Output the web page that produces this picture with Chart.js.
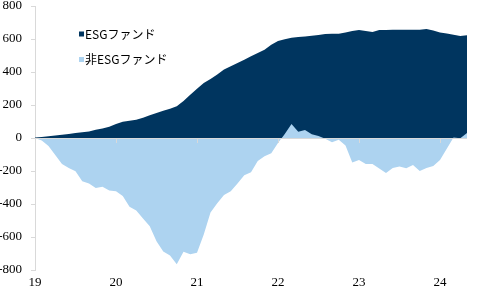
<!DOCTYPE html>
<html>
<head>
<meta charset="utf-8">
<script src="https://cdn.jsdelivr.net/npm/chart.js@4/dist/chart.umd.min.js"></script>
<style>
html,body{margin:0;padding:0;background:#fff;}
#wrap{width:482px;height:292px;position:relative;}
</style>
</head>
<body>
<div id="wrap"><canvas id="c" width="482" height="292"></canvas></div>
<script>
// Month categories Jan 2019 .. May 2024
const years = ['19','20','21','22','23','24'];
const categories = [];
for (let y = 0; y < years.length; y++) {
  for (let m = 1; m <= 12; m++) {
    if (y === years.length - 1 && m > 5) break;
    categories.push(years[y] + '/' + String(m).padStart(2, '0'));
  }
}
const seriesNames = ['ESGファンド', '非ESGファンド'];
const esgValues = [
  3, 6, 10, 15, 20, 24, 30, 35, 40, 50, 58, 68,
  85, 98, 105, 110, 122, 138, 152, 165, 178, 192, 225, 262,
  298, 333, 358, 385, 415, 435, 455, 475, 495, 515, 535, 565,
  588, 598, 608, 612, 615, 620, 625, 630, 632, 632, 640, 648,
  655, 648, 642, 654, 655, 656, 656, 656, 656, 656, 660, 652,
  640, 634, 626, 618, 622
];
const nonEsgValues = [
  0, -15, -48, -103, -158, -182, -202, -262, -276, -303, -296, -318,
  -323, -352, -416, -440, -488, -535, -625, -688, -712, -765, -690, -705,
  -695, -585, -452, -395, -345, -323, -275, -225, -207, -140, -110, -93,
  -30, 25, 85, 38, 48, 22, 12, -5, -25, -10, -45, -148,
  -133, -158, -158, -185, -212, -182, -172, -184, -164, -200, -182, -170,
  -133, -65, 3, -2, 30
];
const yTicks = [-800, -600, -400, -200, 0, 200, 400, 600, 800];

const colors = ['#00355F', '#ADD3F0'];
const axisGray = '#D9D9D9';
const tickFont = { family: 'Liberation Serif', size: 13 };

const legendPlugin = {
  id: 'customLegend',
  afterDraw(chart) {
    const ctx = chart.ctx;
    ctx.save();
    ctx.font = '12px "Noto Sans CJK JP", sans-serif';
    ctx.textBaseline = 'middle';
    ctx.textAlign = 'left';
    chart.data.datasets.forEach((ds, i) => {
      const cy = 34 + i * 25.5;
      ctx.fillStyle = ds.backgroundColor;
      ctx.fillRect(79, cy - 2.5, 5, 5);
      ctx.fillStyle = '#000';
      ctx.fillText(ds.label, 85, cy);
    });
    ctx.restore();
  }
};

const zeroTicksPlugin = {
  id: 'zeroTicks',
  afterDatasetsDraw(chart) {
    const ctx = chart.ctx;
    const xs = chart.scales.x, ys = chart.scales.y;
    const y0 = ys.getPixelForValue(0);
    const ca = chart.chartArea;
    ctx.save();
    ctx.strokeStyle = axisGray;
    ctx.lineWidth = 1;
    ctx.beginPath();
    ctx.moveTo(ca.left, Math.round(y0) + 0.5);
    ctx.lineTo(ca.right, Math.round(y0) + 0.5);
    categories.forEach((c, i) => {
      if (c.endsWith('/01')) {
        const px = Math.round(xs.getPixelForValue(i)) + 0.5;
        ctx.moveTo(px, Math.round(y0));
        ctx.lineTo(px, Math.round(y0) + 5);
      }
    });
    ctx.stroke();
    ctx.restore();
  }
};

new Chart(document.getElementById('c'), {
  type: 'line',
  data: {
    labels: categories,
    datasets: [
      { label: seriesNames[0], data: esgValues, backgroundColor: colors[0], borderColor: colors[0],
        borderWidth: 0, pointRadius: 0, fill: 'origin', tension: 0, order: 1 },
      { label: seriesNames[1], data: nonEsgValues, backgroundColor: colors[1], borderColor: colors[1],
        borderWidth: 0, pointRadius: 0, fill: 'origin', tension: 0, order: 0 }
    ]
  },
  options: {
    responsive: false,
    animation: false,
    layout: { padding: { top: 0, right: 15, left: 0, bottom: 0 } },
    plugins: { legend: { display: false }, tooltip: { enabled: false } },
    scales: {
      x: {
        type: 'category',
        offset: false,
        grid: { display: false, tickLength: 0 },
        border: { display: false },
        ticks: {
          autoSkip: false, maxRotation: 0, padding: 5,
          font: tickFont, color: '#000',
          callback: (v, i) => categories[i].endsWith('/01') ? categories[i].slice(0, 2) : null
        },
        afterFit: (s) => { s.height = 22; }
      },
      y: {
        min: -800, max: 800,
        afterBuildTicks: (s) => { s.ticks = yTicks.map(v => ({ value: v })); },
        grid: { drawOnChartArea: false, color: axisGray, tickLength: 4 },
        border: { display: true, color: axisGray },
        ticks: { font: tickFont, color: '#000', padding: 9 },
        afterFit: (s) => { s.width = 35; s.paddingTop = 6; s.paddingBottom = 0; }
      }
    }
  },
  plugins: [zeroTicksPlugin, legendPlugin]
});
</script>
</body>
</html>
